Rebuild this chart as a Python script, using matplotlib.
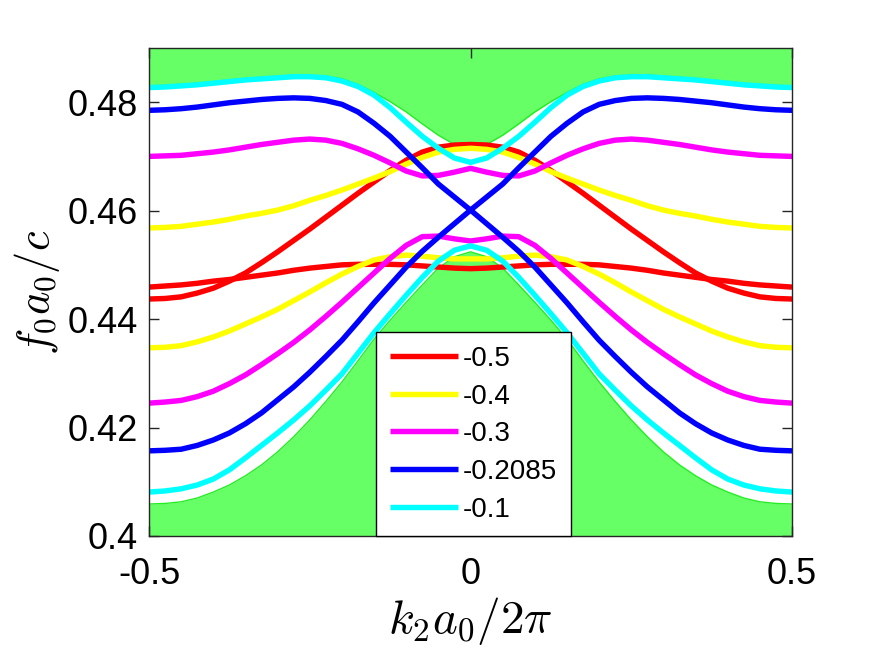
import numpy as np
import matplotlib.pyplot as plt

plt.rcParams['font.family'] = ['Liberation Sans', 'DejaVu Sans']
plt.rcParams['mathtext.fontset'] = 'cm'

# k2 a0 / 2pi sample points
k = [-0.5, -0.475, -0.45, -0.425, -0.4, -0.375, -0.35, -0.325, -0.3, -0.275, -0.25,
     -0.225, -0.2, -0.175, -0.15, -0.125, -0.1, -0.075, -0.05, -0.025, 0.0,
     0.025, 0.05, 0.075, 0.1, 0.125, 0.15, 0.175, 0.2, 0.225, 0.25,
     0.275, 0.3, 0.325, 0.35, 0.375, 0.4, 0.425, 0.45, 0.475, 0.5]

# edge bands, two branches per parameter value
red_a = [0.4437, 0.4438, 0.4441, 0.4448, 0.4457, 0.4470, 0.4485, 0.4504, 0.4524, 0.4545, 0.4566,
         0.4588, 0.4610, 0.4632, 0.4653, 0.4674, 0.4693, 0.4708, 0.4717, 0.4721, 0.4722,
         0.4721, 0.4717, 0.4708, 0.4693, 0.4674, 0.4653, 0.4632, 0.4610, 0.4588, 0.4566,
         0.4545, 0.4524, 0.4504, 0.4485, 0.4470, 0.4457, 0.4448, 0.4441, 0.4438, 0.4437]
red_b = [0.4459, 0.4461, 0.4463, 0.4466, 0.4470, 0.4473, 0.4477, 0.4481, 0.4485, 0.4490, 0.4494,
         0.4497, 0.4500, 0.4501, 0.4501, 0.4501, 0.4500, 0.4498, 0.4496, 0.4494, 0.4493,
         0.4494, 0.4496, 0.4498, 0.4500, 0.4501, 0.4501, 0.4501, 0.4500, 0.4497, 0.4494,
         0.4490, 0.4485, 0.4481, 0.4477, 0.4473, 0.4470, 0.4466, 0.4463, 0.4461, 0.4459]
yel_a = [0.4568, 0.4569, 0.4571, 0.4575, 0.4579, 0.4584, 0.4590, 0.4595, 0.4601, 0.4609, 0.4619,
         0.4628, 0.4638, 0.4649, 0.4660, 0.4672, 0.4686, 0.4698, 0.4708, 0.4713, 0.4715,
         0.4713, 0.4708, 0.4698, 0.4686, 0.4672, 0.4660, 0.4649, 0.4638, 0.4628, 0.4619,
         0.4609, 0.4601, 0.4595, 0.4590, 0.4584, 0.4579, 0.4575, 0.4571, 0.4569, 0.4568]
yel_b = [0.4347, 0.4348, 0.4351, 0.4358, 0.4367, 0.4378, 0.4391, 0.4404, 0.4418, 0.4434, 0.4450,
         0.4467, 0.4483, 0.4497, 0.4509, 0.4515, 0.4518, 0.4516, 0.4513, 0.4511, 0.4511,
         0.4511, 0.4513, 0.4516, 0.4518, 0.4515, 0.4509, 0.4497, 0.4483, 0.4467, 0.4450,
         0.4434, 0.4418, 0.4404, 0.4391, 0.4378, 0.4367, 0.4358, 0.4351, 0.4348, 0.4347]
mag_a = [0.4700, 0.4701, 0.4702, 0.4705, 0.4708, 0.4712, 0.4717, 0.4722, 0.4726, 0.4730, 0.4732,
         0.4730, 0.4724, 0.4714, 0.4702, 0.4688, 0.4673, 0.4664, 0.4665, 0.4671, 0.4678,
         0.4671, 0.4665, 0.4664, 0.4673, 0.4688, 0.4702, 0.4714, 0.4724, 0.4730, 0.4732,
         0.4730, 0.4726, 0.4722, 0.4717, 0.4712, 0.4708, 0.4705, 0.4702, 0.4701, 0.4700]
mag_b = [0.4245, 0.4247, 0.4250, 0.4257, 0.4267, 0.4281, 0.4297, 0.4316, 0.4336, 0.4357, 0.4380,
         0.4405, 0.4431, 0.4458, 0.4485, 0.4512, 0.4536, 0.4552, 0.4553, 0.4548, 0.4544,
         0.4548, 0.4553, 0.4552, 0.4536, 0.4512, 0.4485, 0.4458, 0.4431, 0.4405, 0.4380,
         0.4357, 0.4336, 0.4316, 0.4297, 0.4281, 0.4267, 0.4257, 0.4250, 0.4247, 0.4245]
blu_a = [0.4785, 0.4786, 0.4788, 0.4791, 0.4795, 0.4799, 0.4802, 0.4805, 0.4807, 0.4808, 0.4807,
         0.4803, 0.4796, 0.4782, 0.4761, 0.4737, 0.4708, 0.4679, 0.4649, 0.4625, 0.4601,
         0.4625, 0.4649, 0.4679, 0.4708, 0.4737, 0.4761, 0.4782, 0.4796, 0.4803, 0.4807,
         0.4808, 0.4807, 0.4805, 0.4802, 0.4799, 0.4795, 0.4791, 0.4788, 0.4786, 0.4785]
blu_b = [0.4157, 0.4158, 0.4160, 0.4167, 0.4177, 0.4190, 0.4207, 0.4227, 0.4251, 0.4275, 0.4302,
         0.4331, 0.4361, 0.4395, 0.4430, 0.4463, 0.4496, 0.4525, 0.4551, 0.4576, 0.4601,
         0.4576, 0.4551, 0.4525, 0.4496, 0.4463, 0.4430, 0.4395, 0.4361, 0.4331, 0.4302,
         0.4275, 0.4251, 0.4227, 0.4207, 0.4190, 0.4177, 0.4167, 0.4160, 0.4158, 0.4157]
cya_a = [0.4827, 0.4828, 0.4830, 0.4832, 0.4835, 0.4838, 0.4841, 0.4843, 0.4845, 0.4847, 0.4847,
         0.4845, 0.4839, 0.4829, 0.4813, 0.4790, 0.4763, 0.4737, 0.4715, 0.4697, 0.4689,
         0.4697, 0.4715, 0.4737, 0.4763, 0.4790, 0.4813, 0.4829, 0.4839, 0.4845, 0.4847,
         0.4847, 0.4845, 0.4843, 0.4841, 0.4838, 0.4835, 0.4832, 0.4830, 0.4828, 0.4827]
cya_b = [0.4081, 0.4083, 0.4087, 0.4094, 0.4105, 0.4122, 0.4144, 0.4167, 0.4190, 0.4214, 0.4240,
         0.4269, 0.4299, 0.4337, 0.4375, 0.4410, 0.4444, 0.4477, 0.4507, 0.4527, 0.4535,
         0.4527, 0.4507, 0.4477, 0.4444, 0.4410, 0.4375, 0.4337, 0.4299, 0.4269, 0.4240,
         0.4214, 0.4190, 0.4167, 0.4144, 0.4122, 0.4105, 0.4094, 0.4087, 0.4083, 0.4081]

# bulk band edges (green regions)
bulk_top = [0.4830, 0.4831, 0.4833, 0.4835, 0.4838, 0.4841, 0.4844, 0.4846, 0.4848, 0.4850, 0.4850,
            0.4848, 0.4843, 0.4833, 0.4818, 0.4801, 0.4782, 0.4760, 0.4739, 0.4722, 0.4721,
            0.4722, 0.4739, 0.4760, 0.4782, 0.4801, 0.4818, 0.4833, 0.4843, 0.4848, 0.4850,
            0.4850, 0.4848, 0.4846, 0.4844, 0.4841, 0.4838, 0.4835, 0.4833, 0.4831, 0.4830]
bulk_bot = [0.4059, 0.4060, 0.4063, 0.4070, 0.4081, 0.4094, 0.4111, 0.4131, 0.4155, 0.4183, 0.4214,
            0.4248, 0.4284, 0.4323, 0.4363, 0.4398, 0.4431, 0.4463, 0.4494, 0.4515, 0.4524,
            0.4515, 0.4494, 0.4463, 0.4431, 0.4398, 0.4363, 0.4323, 0.4284, 0.4248, 0.4214,
            0.4183, 0.4155, 0.4131, 0.4111, 0.4094, 0.4081, 0.4070, 0.4063, 0.4060, 0.4059]

labels = ['-0.5', '-0.4', '-0.3', '-0.2085', '-0.1']
colors = ['#ff0000', '#ffff00', '#ff00ff', '#0000ff', '#00ffff']
branches = [(red_a, red_b), (yel_a, yel_b), (mag_a, mag_b), (blu_a, blu_b), (cya_a, cya_b)]

ymin, ymax = 0.4, 0.49

fig = plt.figure(figsize=(8.75, 6.57), dpi=100)
ax = fig.add_axes([0.1703, 0.1842, 0.7349, 0.7428])

# bulk regions
ax.fill_between(k, bulk_top, ymax, color='#66ff66', lw=0, zorder=1)
ax.plot(k, bulk_top, color='#22ee22', lw=1, zorder=1.5)
ax.fill_between(k, ymin, bulk_bot, color='#66ff66', lw=0, zorder=1)
ax.plot(k, bulk_bot, color='#22ee22', lw=1, zorder=1.5)

# edge states
for (ya, yb), c, lab in zip(branches, colors, labels):
    ax.plot(k, ya, color=c, lw=3.9, label=lab, zorder=2,
            solid_capstyle='butt', solid_joinstyle='round')
    ax.plot(k, yb, color=c, lw=3.9, zorder=2,
            solid_capstyle='butt', solid_joinstyle='round')

ax.set_xlim(-0.5, 0.5)
ax.set_ylim(ymin, ymax)
ax.set_xticks([-0.5, 0, 0.5])
ax.set_xticklabels(['-0.5', '0', '0.5'])
ax.set_yticks([0.4, 0.42, 0.44, 0.46, 0.48])
ax.set_yticklabels(['0.4', '0.42', '0.44', '0.46', '0.48'])
ax.tick_params(direction='in', top=True, right=True, length=7, width=1,
               color='#262626', labelsize=26)
ax.tick_params(axis='x', pad=15)
ax.tick_params(axis='y', pad=8)
for s in ax.spines.values():
    s.set_color('#262626')
    s.set_linewidth(1)
    s.set_zorder(5)

ax.set_xlabel(r'$k_2a_0/2\pi$', fontsize=34, labelpad=2)
ax.set_ylabel(r'$f_0a_0/c$', fontsize=32, labelpad=4)

leg = ax.legend(loc='upper left', bbox_to_anchor=(0.353, 0.418), fontsize=20,
                handlelength=2.45, handletextpad=0.18, labelspacing=0.42,
                borderaxespad=0, borderpad=0.5, fancybox=False, framealpha=1,
                edgecolor='black')
leg.get_frame().set_linewidth(1)
leg.set_zorder(6)

fig.savefig('out.png', dpi=100, facecolor='white')
